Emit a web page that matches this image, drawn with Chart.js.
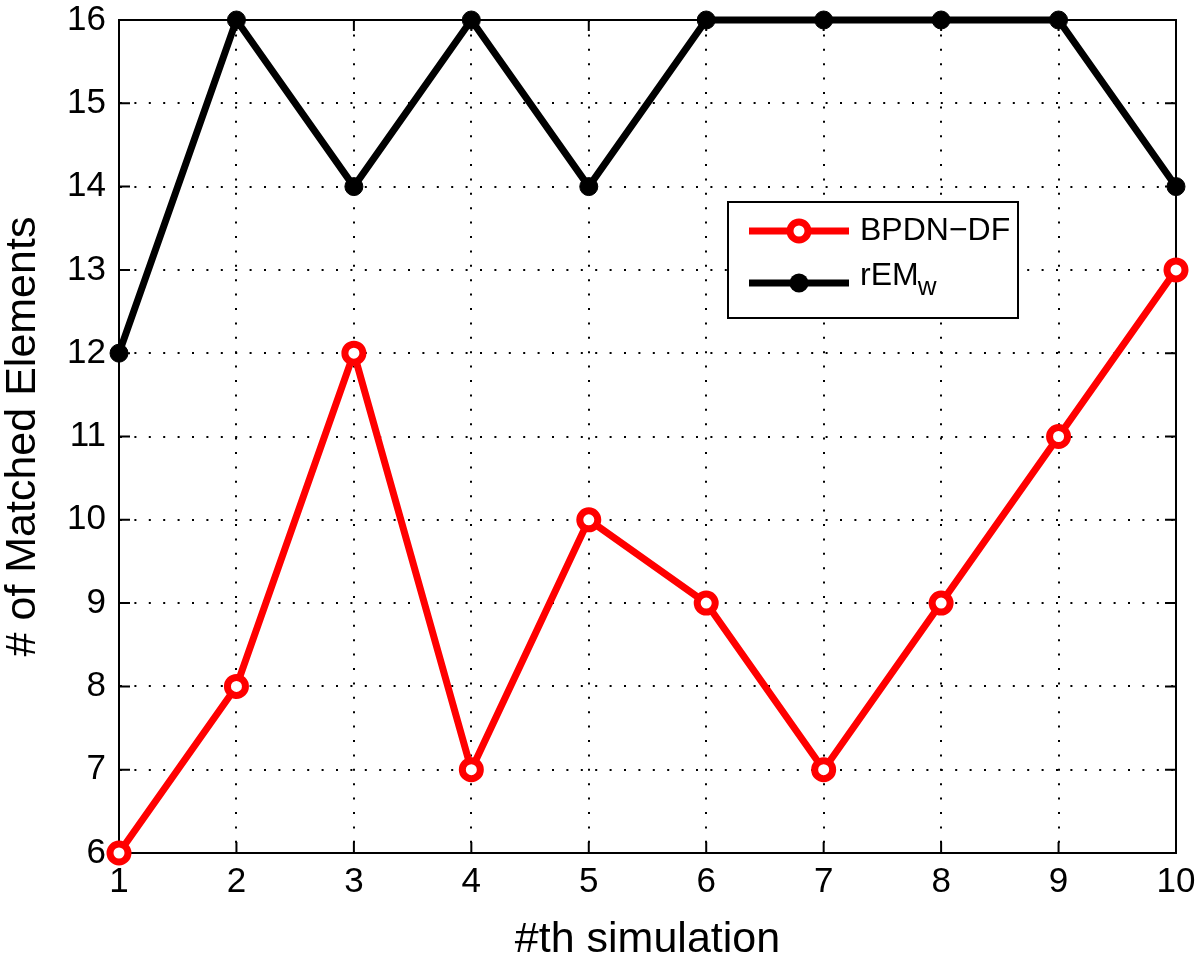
<!DOCTYPE html>
<html>
<head>
<meta charset="utf-8">
<script src="https://cdn.jsdelivr.net/npm/chart.js@4.4.0/dist/chart.umd.min.js"></script>
<style>
  html, body { margin: 0; padding: 0; background: #fff; }
  #wrap { width: 1200px; height: 964px; }
</style>
</head>
<body>
<div id="wrap"><canvas id="chart" width="1200" height="964"></canvas></div>
<script>
// --- Data ---
const simulations = [1, 2, 3, 4, 5, 6, 7, 8, 9, 10];
const bpdnValues = [6, 8, 12, 7, 10, 9, 7, 9, 11, 13];
const remValues = [12, 16, 14, 16, 14, 16, 16, 16, 16, 14];
const xTicks = [1, 2, 3, 4, 5, 6, 7, 8, 9, 10];
const yTicks = [6, 7, 8, 9, 10, 11, 12, 13, 14, 15, 16];

const FONT = '"Liberation Sans", Arial, Helvetica, sans-serif';

// box on top/right plus inward tick marks, matlab style
const boxPlugin = {
    id: 'box',
    beforeDatasetsDraw(chart) {
        const { ctx, chartArea: a, scales } = chart;
        ctx.save();
        ctx.strokeStyle = '#000';
        ctx.lineWidth = 2;
        ctx.strokeRect(a.left, a.top, a.right - a.left, a.bottom - a.top);
        ctx.beginPath();
        xTicks.forEach(t => {
            const x = scales.x.getPixelForValue(t);
            ctx.moveTo(x, a.bottom); ctx.lineTo(x, a.bottom - 11);
            ctx.moveTo(x, a.top); ctx.lineTo(x, a.top + 11);
        });
        yTicks.forEach(t => {
            const y = scales.y.getPixelForValue(t);
            ctx.moveTo(a.left, y); ctx.lineTo(a.left + 11, y);
            ctx.moveTo(a.right, y); ctx.lineTo(a.right - 11, y);
        });
        ctx.stroke();
        ctx.restore();
    }
};

// legend box drawn by hand (needs subscript)
const legendPlugin = {
    id: 'matlabLegend',
    afterDraw(chart) {
        const ctx = chart.ctx;
        const bx = 728, by = 202, bw = 290, bh = 116;
        ctx.save();
        ctx.fillStyle = '#fff';
        ctx.fillRect(bx, by, bw, bh);
        ctx.strokeStyle = '#000';
        ctx.lineWidth = 2;
        ctx.strokeRect(bx, by, bw, bh);

        const rows = [
            { y: 231, ty: 231, color: '#ff0000', open: true, label: 'BPDN\u2212DF' },
            { y: 283, ty: 276, color: '#000000', open: false, label: 'rEM', sub: 'w' }
        ];
        rows.forEach(r => {
            ctx.strokeStyle = r.color;
            ctx.lineWidth = 7;
            ctx.beginPath();
            ctx.moveTo(749, r.y); ctx.lineTo(849, r.y);
            ctx.stroke();
            ctx.beginPath();
            if (r.open) {
                ctx.arc(799, r.y, 9, 0, Math.PI * 2);
                ctx.fillStyle = '#fff';
                ctx.fill();
                ctx.lineWidth = 7;
                ctx.stroke();
            } else {
                ctx.arc(799, r.y, 9.5, 0, Math.PI * 2);
                ctx.fillStyle = r.color;
                ctx.fill();
            }
            ctx.fillStyle = '#000';
            ctx.font = '32px ' + FONT;
            ctx.textBaseline = 'middle';
            ctx.textAlign = 'left';
            ctx.fillText(r.label, 860, r.ty);
            if (r.sub) {
                const w = ctx.measureText(r.label).width;
                ctx.font = '26px ' + FONT;
                ctx.fillText(r.sub, 860 + w - 1, r.ty + 12);
            }
        });
        ctx.restore();
    }
};

function toPoints(vals) {
    return simulations.map((s, i) => ({ x: s, y: vals[i] }));
}

new Chart(document.getElementById('chart'), {
    type: 'line',
    data: {
        datasets: [
            {
                label: 'BPDN-DF',
                data: toPoints(bpdnValues),
                borderColor: '#ff0000',
                borderWidth: 7,
                pointRadius: 9,
                pointBorderWidth: 7,
                pointBackgroundColor: '#ffffff',
                pointBorderColor: '#ff0000',
                tension: 0,
                clip: false
            },
            {
                label: 'rEMw',
                data: toPoints(remValues),
                borderColor: '#000000',
                borderWidth: 7,
                pointRadius: 9,
                pointBorderWidth: 1,
                pointBorderColor: '#000000',
                pointBackgroundColor: '#000000',
                tension: 0,
                clip: false
            }
        ]
    },
    options: {
        responsive: false,
        animation: false,
        layout: { padding: { top: 20, right: 24, left: 0, bottom: 0 } },
        plugins: { legend: { display: false }, tooltip: { enabled: false } },
        scales: {
            x: {
                type: 'linear',
                min: 1, max: 10,
                afterBuildTicks: axis => { axis.ticks = xTicks.map(v => ({ value: v })); },
                afterFit: axis => { axis.height = 111; axis.paddingLeft = 0; axis.paddingRight = 0; },
                grid: { color: '#000', lineWidth: 2, drawTicks: false },
                border: { display: true, color: '#000', width: 2, dash: [2, 12.4] },
                ticks: { color: '#000', font: { family: FONT, size: 35 }, padding: 8, maxRotation: 0 },
                title: { display: true, text: '#th simulation', color: '#000', font: { family: FONT, size: 43 }, padding: { top: 0, bottom: -2 } }
            },
            y: {
                type: 'linear',
                min: 6, max: 16,
                afterBuildTicks: axis => { axis.ticks = yTicks.map(v => ({ value: v })); },
                afterFit: axis => { axis.width = 119; axis.paddingTop = 0; axis.paddingBottom = 0; },
                grid: { color: '#000', lineWidth: 2, drawTicks: false },
                border: { display: true, color: '#000', width: 2, dash: [2, 12.4] },
                ticks: { color: '#000', font: { family: FONT, size: 35 }, padding: 13 },
                title: { display: true, text: '# of Matched Elements', color: '#000', font: { family: FONT, size: 43 }, padding: { top: -3, bottom: 0 } }
            }
        }
    },
    plugins: [boxPlugin, legendPlugin]
});
</script>
</body>
</html>
